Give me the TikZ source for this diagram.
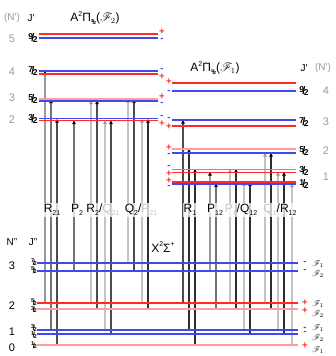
\documentclass[tikz,border=0pt]{standalone}
\usepackage{fontspec}
\setmainfont{Liberation Sans}
\usepackage{mathrsfs}
\usetikzlibrary{arrows.meta}
\definecolor{lvred}{HTML}{FF2A2A}
\definecolor{lvpink}{HTML}{FF9C9C}
\definecolor{lvblue}{HTML}{4646F0}
\definecolor{lvlblue}{HTML}{8C8CF2}
\definecolor{ngray}{HTML}{9A9A9A}
\definecolor{tlight}{HTML}{C4C4C4}
\newcommand\fr[2]{{\bfseries\raisebox{0.42ex}{\fontsize{8.5}{8.5}\selectfont #1}\kern-0.17em{\fontsize{11}{11}\selectfont /}\kern-0.17em\raisebox{-0.1ex}{\fontsize{8.5}{8.5}\selectfont #2}}}
\newcommand\frs[2]{{\bfseries\raisebox{0.45ex}{\fontsize{5.6}{5.6}\selectfont #1}\kern-0.14em{\fontsize{7.5}{7.5}\selectfont /}\kern-0.14em\raisebox{-0.1ex}{\fontsize{5.6}{5.6}\selectfont #2}}}
\newcommand\frt[2]{{\bfseries\raisebox{0.45ex}{\fontsize{4.5}{4.5}\selectfont #1}\kern-0.12em{\fontsize{6.5}{6.5}\selectfont /}\kern-0.12em\raisebox{-0.1ex}{\fontsize{4.5}{4.5}\selectfont #2}}}
\newcommand\lsub[1]{\raisebox{-0.45ex}{\fontsize{7}{7}\selectfont #1}}
\newcommand\lsup[1]{\raisebox{0.85ex}{\fontsize{7}{7}\selectfont #1}}
\newcommand\Fs[1]{$\mathscr{F}_{#1}$}
\begin{document}
\begin{tikzpicture}[x=1pt,y=-1pt,
  lvR/.style={draw=lvred,line width=1.1pt},
  lvP/.style={draw=lvpink,line width=2.2pt},
  lvB/.style={draw=lvblue,line width=1.1pt},
  lvLB/.style={draw=lvlblue,line width=1.3pt},
  tr/.style={line width=1.3pt,-{Triangle[width=3.6pt,length=3.6pt,color=black]}},
  d1/.style={tr,draw=black!40},
  d2/.style={tr,draw=black!55},
  d3/.style={tr,draw=black!70},
  d4/.style={tr,draw=black!82},
  lt/.style={line width=1.3pt,draw=tlight,-{Triangle[width=3.6pt,length=3.6pt,color=black!40]}},
  sp/.style={text=lvred,font=\bfseries\fontsize{9.5}{9.5}\selectfont,inner sep=0pt},
  sm/.style={text=lvblue,font=\bfseries\fontsize{9.5}{9.5}\selectfont,inner sep=0pt},
  num/.style={text=ngray,font=\fontsize{11}{11}\selectfont,inner sep=0pt},
  hd/.style={font=\fontsize{10}{10}\selectfont,inner sep=0pt},
  ttl/.style={font=\fontsize{12}{12}\selectfont,inner sep=0pt},
  lab/.style={fill=white,fill opacity=0.75,text opacity=1,inner sep=1pt,font=\fontsize{12}{12}\selectfont},
  fl/.style={font=\fontsize{8}{8}\selectfont,inner sep=0pt},
  fj/.style={inner sep=0pt}]
\useasboundingbox (0,0) rectangle (335,356);
% transitions
\foreach \x/\ya/\yb/\s in {45/303/71/d1,51/330/99.5/d2,57/345/119/d3,74/271/120.5/d2,
  91/303/100.5/lt,97/309/100.5/d3,105/330/120.5/lt,111/334/120.5/d3,
  128/263/99/lt,134/271/99/d3,142/303/119/lt,148/309/119/d4,
  183/303/120/d3,189/330/149/d4,195/345/169/d4,210/271/172/d1,216/309/183.5/d2,
  230/303/169/lt,236/309/169/d4,244/330/182/lt,250/334/182/d4,
  265/303/153/lt,271/309/153/d4,278/330/172/lt,284/334/172/d4,292/345/183.5/lt}
  \draw[\s] (\x,\ya) -- (\x,\yb);
% upper left levels (A2Pi3/2, F2)
\draw[lvR] (39,34) -- (158,34);
\draw[lvB] (39,38) -- (158,38);
\draw[lvB] (39,71) -- (158,71);
\draw[lvR] (39,74) -- (158,74);
\draw[lvP] (39,99) -- (158,99);
\draw[lvB] (39,101) -- (158,101);
\draw[lvB] (39,118.8) -- (158,118.8);
\draw[lvR,line width=1.4pt] (39,120.5) -- (158,120.5);
% upper right levels (A2Pi1/2, F1)
\draw[lvR] (172,83) -- (296,83);
\draw[lvB] (172,91) -- (296,91);
\draw[lvB] (172,120) -- (296,120);
\draw[lvR] (172,126) -- (296,126);
\draw[lvP] (172,149) -- (296,149);
\draw[lvB] (172,153) -- (296,153);
\draw[lvLB] (172,169.5) -- (296,169.5);
\draw[lvR] (172,172.3) -- (296,172.3);
\draw[lvR,line width=1.5pt] (172,182) -- (296,182);
\draw[lvB] (172,184) -- (296,184);
% lower levels (X2Sigma+)
\draw[lvB] (37,263) -- (298,263);
\draw[lvB] (37,271) -- (298,271);
\draw[lvR] (37,303) -- (298,303);
\draw[lvP] (37,309) -- (298,309);
\draw[lvB] (37,330) -- (298,330);
\draw[lvB] (37,334) -- (298,334);
\draw[lvP] (37,345) -- (298,345);
% signs upper left
\node[sp] (s1) at (162,32) {+};
\node[sm] (s2) at (162,40) {-};
\node[sm] (s3) at (162,70) {-};
\node[sp] (s4) at (162,77) {+};
\node[sp] (s5) at (162,97) {+};
\node[sm] (s6) at (162,104) {-};
\node[sm] (s7) at (162,116.5) {-};
\node[sp] (s8) at (162,123.5) {+};
% signs upper right
\node[sp] (r1) at (169,82) {+};
\node[sm] (r2) at (169,91.5) {-};
\node[sm] (r3) at (169,118.5) {-};
\node[sp] (r4) at (169,127) {+};
\node[sp] (r5) at (169,147.5) {+};
\node[sm] (r6) at (169,154.5) {-};
\node[sm] (r7) at (169,167) {-};
\node[sp] (r8) at (169,174) {+};
\node[sp] (r9) at (169,180.5) {+};
\node[sm] (r10) at (169,187) {-};
% signs lower right
\node[sm] (l1) at (305,262.5) {-};
\node[sm] (l2) at (305,271) {-};
\node[sp] (l3) at (305,302.5) {+};
\node[sp] (l4) at (305,310.5) {+};
\node[sm] (l5) at (305,328.5) {-};
\node[sm] (l6) at (305,333) {-};
\node[sp] (l7) at (305,345.5) {+};
\node[fl] (f1) at (318,264.5) {\Fs1};
\node[fl] (f2) at (318,274) {\Fs2};
\node[fl] (f3) at (318,304.5) {\Fs1};
\node[fl] (f4) at (318,314) {\Fs2};
\node[fl] (f5) at (318,328) {\Fs1};
\node[fl] (f6) at (318,338) {\Fs2};
\node[fl] (f7) at (318,350) {\Fs1};
% headers upper left
\node[hd,text=ngray] (hN) at (12,18) {(N\textquotesingle)};
\node[hd] (hJ) at (31,18) {J\textquotesingle};
\node[ttl] (tA) at (95,18) {A\lsup{2}Π\lsub{\frt32}(\Fs2)};
\node[num] (n5) at (12,39) {5};
\node[num] (n4) at (12,72) {4};
\node[num] (n3) at (12,98) {3};
\node[num] (n2) at (12,120) {2};
\node[fj] (j5) at (33,38) {\fr92};
\node[fj] (j4) at (33,71) {\fr72};
\node[fj] (j3) at (33,99) {\fr52};
\node[fj] (j2) at (33,119) {\fr32};
% headers upper right
\node[ttl] (tB) at (215,68) {A\lsup{2}Π\lsub{\frt12}(\Fs1)};
\node[hd] (hJr) at (304,68) {J\textquotesingle};
\node[hd,text=ngray] (hNr) at (323,68) {(N\textquotesingle)};
\node[fj] (k4) at (304,91) {\fr92};
\node[fj] (k3) at (304,122) {\fr72};
\node[fj] (k2) at (304,151) {\fr52};
\node[fj] (k1) at (304,171) {\fr32};
\node[fj] (k0) at (304,184) {\fr12};
\node[num] (m4) at (326,91) {4};
\node[num] (m3) at (326,122) {3};
\node[num] (m2) at (326,151) {2};
\node[num] (m1) at (326,177) {1};
% lower headers
\node[hd] (hNl) at (12,242) {N"};
\node[hd] (hJl) at (33,242) {J"};
\node[ttl] (tX) at (163,247) {X\lsup{2}Σ\lsup{+}};
\node[num,text=black] (p3) at (12,266) {3};
\node[num,text=black] (p2) at (12,306) {2};
\node[num,text=black] (p1) at (12,332) {1};
\node[num,text=black] (p0) at (12,348) {0};
\node[fj] (q1) at (34,262.5) {\frs72};
\node[fj] (q2) at (34,270.5) {\frs52};
\node[fj] (q3) at (34,302.5) {\frs52};
\node[fj] (q4) at (34,309.5) {\frs32};
\node[fj] (q5) at (34,328) {\frs32};
\node[fj] (q6) at (34,335) {\frs12};
\node[fj] (q7) at (34,345.5) {\frs12};
% branch labels
\node[lab] (b1) at (52,210) {R\lsub{21}};
\node[lab] (b2) at (77,210) {P\lsub{2}};
\node[lab] (b3) at (103,210) {R\lsub{2}/\textcolor{tlight}{Q\lsub{21}}};
\node[lab] (b4) at (141,210) {Q\lsub{2}/\textcolor{tlight}{P\lsub{21}}};
\node[lab] (b5) at (190,210) {R\lsub{1}};
\node[lab] (b6) at (215,210) {P\lsub{12}};
\node[lab] (b7) at (241,210) {\textcolor{tlight}{P\lsub{1}}/Q\lsub{12}};
\node[lab] (b8) at (280,210) {\textcolor{tlight}{Q\lsub{1}}/R\lsub{12}};
\end{tikzpicture}
\end{document}
